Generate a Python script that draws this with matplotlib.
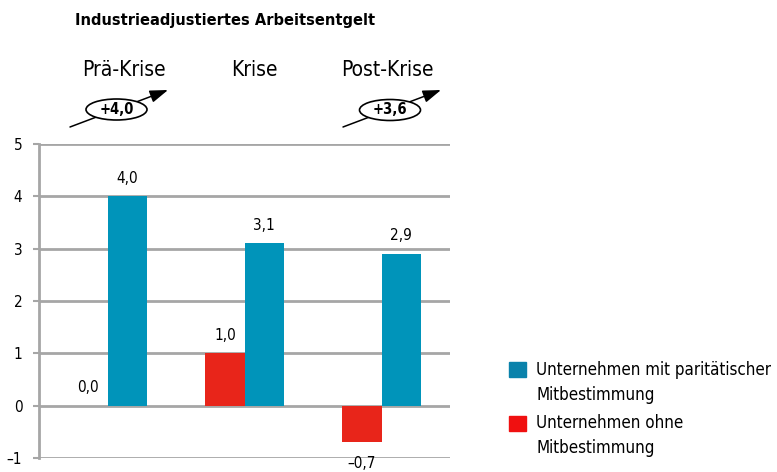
import matplotlib
matplotlib.use("Agg")
import matplotlib.pyplot as plt
import numpy as np
from matplotlib.patches import Ellipse, FancyArrowPatch, Rectangle

# ------------------------------------------------------------------ data
phases = ["Prä-Krise", "Krise", "Post-Krise"]
mit_paritaet = [4.0, 3.1, 2.9]       # Unternehmen mit paritätischer Mitbestimmung
ohne_mitbest = [0.0, 1.0, -0.7]      # Unternehmen ohne Mitbestimmung
change_labels = {0: "+4,0", 2: "+3,6"}
yticks = [-1, 0, 1, 2, 3, 4, 5]

BLUE = "#0094ba"
RED = "#e8251a"
GRID = "#a6a6a6"
W, H = 777, 472

plt.rcParams["font.family"] = ["DejaVu Sans"]
plt.rcParams["font.stretch"] = "condensed"


def fmt(v):
    s = f"{abs(v):.1f}".replace(".", ",")
    return ("\u2013" + s) if v < 0 else s


def fx(px):
    return px / W


def fy(py):
    return 1 - py / H


fig = plt.figure(figsize=(7.77, 4.72), dpi=100)
ax = fig.add_axes([fx(39), fy(458), 411 / W, 314 / H])

x = np.arange(len(phases))
w = 0.285
ax.bar(x - w / 2, ohne_mitbest, w, color=RED, zorder=3)
ax.bar(x + w / 2, mit_paritaet, w, color=BLUE, zorder=3)

for xi, v in zip(x, ohne_mitbest):
    if v >= 0:
        ax.text(xi - w / 2, v + 0.2, fmt(v), ha="center", va="bottom",
                fontsize=11)
    else:
        ax.text(xi - w / 2, v - 0.27, fmt(v), ha="center", va="top",
                fontsize=11, clip_on=False)
for xi, v in zip(x, mit_paritaet):
    ax.text(xi + w / 2, v + 0.2, fmt(v), ha="center", va="bottom",
            fontsize=11)

ax.set_xlim(-0.5, 2.5)
ax.set_ylim(-1, 5)
ax.set_yticks(yticks)
ax.set_yticklabels([fmt(t).replace(",0", "") for t in yticks], fontsize=11)
ax.set_xticks([])
ax.grid(axis="y", color=GRID, lw=2, zorder=0)
for s in ["top", "right", "bottom"]:
    ax.spines[s].set_visible(False)
ax.spines["left"].set_color(GRID)
ax.spines["left"].set_linewidth(2)
ax.tick_params(axis="y", length=4, width=1.5, color=GRID, pad=8)

# category headings above the plot
head_off = [0.12, 0.07, 0.04]
for xi, name, off in zip(x, phases, head_off):
    ax.text(xi + off, 1.236, name, transform=ax.get_xaxis_transform(),
            ha="center", va="center", fontsize=15)

# trend arrows with ellipse badges (pixel positions from the layout)
badges = {0: (70, 127, 168, 90, 116.5, 109.5), 2: (343, 127, 441, 90, 390, 110)}
for gi, lab in change_labels.items():
    x0, y0, x1, y1, ex, ey = badges[gi]
    fig.add_artist(FancyArrowPatch(
        (fx(x0), fy(y0)), (fx(x1), fy(y1)), transform=fig.transFigure,
        arrowstyle="-|>,head_length=11,head_width=3.8", mutation_scale=1,
        shrinkA=0, shrinkB=0, color="black", lw=1.1, zorder=1))
    fig.add_artist(Ellipse((fx(ex), fy(ey)), 61 / W, 21 / H,
                           transform=fig.transFigure, fc="white", ec="black",
                           lw=1.2, zorder=2))
    fig.text(fx(ex), fy(ey), lab, ha="center", va="center", fontsize=10.5,
             fontweight="bold", zorder=3)

fig.text(fx(75), fy(20), "Industrieadjustiertes Arbeitsentgelt",
         ha="left", va="center", fontsize=11.7, fontweight="bold")

# legend drawn by hand
fig.add_artist(Rectangle((fx(509), fy(377)), 17 / W, 15 / H,
                         transform=fig.transFigure, color="#0a82ab"))
fig.add_artist(Rectangle((fx(509), fy(431)), 17 / W, 15 / H,
                         transform=fig.transFigure, color="#f01010"))
leg_lines = [("Unternehmen mit paritätischer", 370), ("Mitbestimmung", 395),
             ("Unternehmen ohne", 423), ("Mitbestimmung", 448)]
for txt, yy in leg_lines:
    fig.text(fx(536), fy(yy), txt, ha="left", va="center", fontsize=12.2)

fig.savefig("out.png", dpi=100)
